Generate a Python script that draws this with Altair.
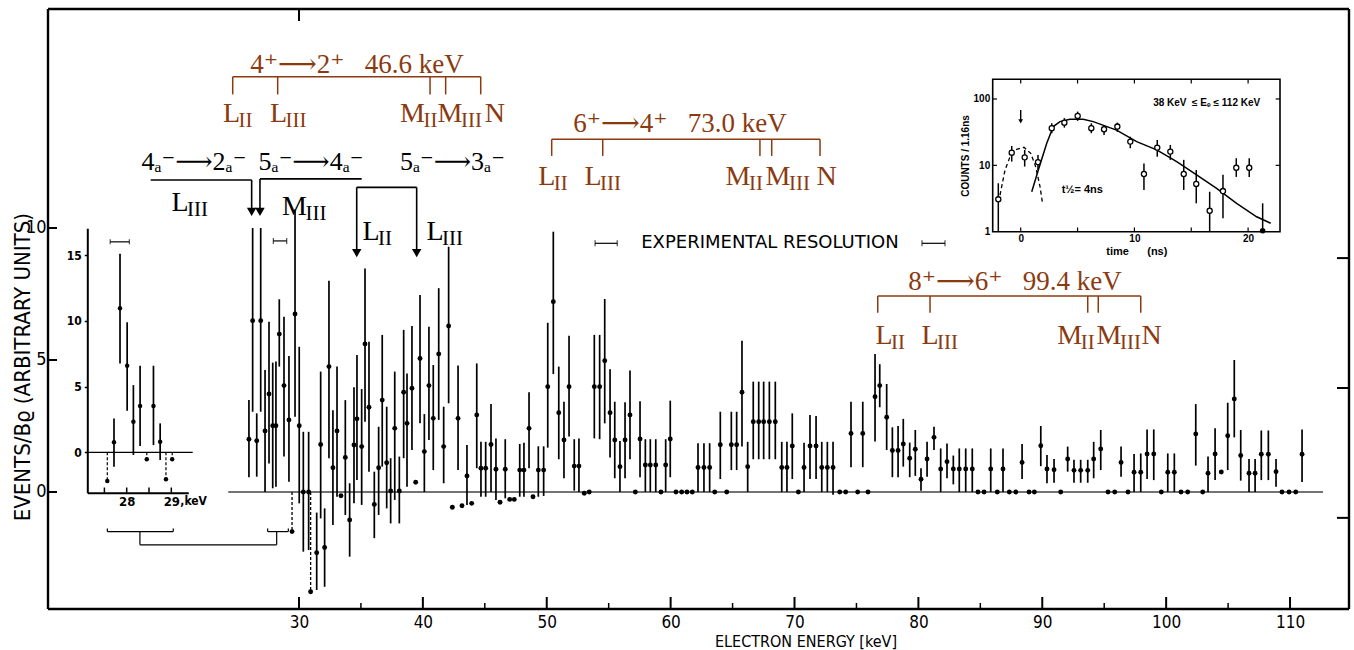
import altair as alt
import pandas as pd

SERIF = "Liberation Serif, Times New Roman, DejaVu Serif, serif"
SANS_N = "Liberation Sans Narrow, DejaVu Sans Condensed, Liberation Sans, sans-serif"
SANS = "Liberation Sans, DejaVu Sans, sans-serif"
WIDE = "DejaVu Sans, Liberation Sans, sans-serif"
BROWN = "#8B3A10"
NB = "\u00a0"

# ---------------- main spectrum (electron energy keV, events/Bρ) ----------------
energy = [25.96, 26.26, 26.59, 26.91, 27.26, 27.58, 27.88, 28.14, 28.41, 28.79,
          29.19, 29.68, 30.02, 30.35, 30.78, 31.43, 31.75, 32.07, 32.42, 32.74,
          33.07, 33.39, 33.74, 34.09, 34.44, 34.68, 35.06, 35.33, 35.65, 36.08,
          36.43, 36.72, 37.08, 37.40, 37.73, 38.10, 38.45, 38.72, 39.12, 39.42,
          39.77, 40.12, 40.49, 40.84, 41.28, 41.68, 42.08, 42.38, 42.84, 43.16,
          43.56, 43.94, 44.35, 44.69, 45.07, 45.50, 45.90, 46.23, 46.65, 47.01,
          47.38, 47.82, 48.16, 48.57, 48.89, 49.32, 49.75, 50.08, 50.53, 50.97,
          51.39, 51.80, 52.22, 52.60, 53.03, 53.43, 53.84, 54.27, 54.68, 55.11,
          55.49, 55.91, 56.32, 56.72, 57.15, 57.53, 57.96, 58.36, 58.80, 59.22,
          59.60, 59.97, 60.43, 60.89, 61.32, 61.75, 62.21, 62.69, 63.15, 63.56,
          64.01, 64.53, 64.90, 65.33, 65.76, 66.22, 66.67, 67.11, 67.51, 67.97,
          68.45, 68.97, 69.39, 69.82, 70.31, 70.77, 71.25, 71.74, 72.20, 72.65,
          73.11, 73.65, 74.13, 74.56, 75.10, 75.51, 75.93, 76.50, 76.88, 77.44,
          77.90, 78.36, 78.78, 79.30, 79.75, 80.21, 80.70, 81.26, 81.80, 82.31,
          82.82, 83.30, 83.82, 84.35, 84.81, 85.30, 85.84, 86.37, 86.83, 87.34,
          87.86, 88.37, 88.93, 89.36, 89.88, 90.38, 90.95, 91.49, 92.05, 92.56,
          93.10, 93.67, 94.15, 94.72, 95.31, 95.85, 96.36, 96.92, 97.41, 97.95,
          98.46, 99.00, 99.61, 100.13, 100.66, 101.20, 101.74, 102.39, 102.95, 103.38,
          103.95, 104.45, 104.97, 105.50, 106.02, 106.69, 107.18, 107.68, 108.25, 108.87,
          109.35, 109.92, 110.46, 110.97]
events = [2.0, 6.49, 1.94, 6.49, 2.31, 3.71, 2.51, 2.51, 5.98, 4.03,
          2.73, 6.74, 2.51, 0.0, 0.0, -2.3, 1.8, -2.1, 4.75, 0.92,
          2.31, -0.14, 1.31, -1.06, 1.78, 2.77, 1.72, 5.61, 3.21, -0.47,
          0.92, 3.48, 1.11, 0.04, 2.41, 0.04, 3.78, 2.6, 3.93, 0.37,
          5.06, 1.53, 4.03, 2.79, 5.23, 1.72, 6.29, -0.58, 2.79, -0.52,
          0.61, -0.43, 2.92, 0.9, 0.9, 1.8, 0.86, -0.39, 0.86, -0.28,
          -0.28, 0.83, 0.83, 2.41, -0.18, 0.83, 0.83, 3.99, 7.21, 3.0,
          1.97, 3.99, 0.98, 0.98, -0.05, 0.0, 3.99, 3.99, 4.97, 3.0,
          1.97, 0.96, 1.97, 2.92, 0.0, 2.01, 1.02, 1.02, 1.02, 0.0,
          1.02, 2.01, 0.0, 0.0, 0.0, 0.0, 0.93, 0.93, 0.93, 0.0,
          1.79, 0.0, 1.79, 1.79, 3.78, 0.96, 2.66, 2.66, 2.66, 2.66,
          2.66, 0.93, 0.93, 1.74, 0.0, 0.93, 1.74, 1.74, 0.93, 0.93,
          0.93, 0.0, 0.0, 2.22, 0.0, 2.22, 0.0, 3.61, 4.03, 2.83,
          1.57, 1.57, 1.82, 1.28, 1.62, 0.48, 1.25, 2.07, 0.87, 1.15,
          0.87, 0.87, 0.87, 0.87, 0.0, 0.0, 0.87, 0.0, 0.87, 0.0,
          0.0, 1.12, 0.0, 0.0, 1.75, 0.87, 0.84, 0.0, 1.25, 0.82,
          0.82, 0.82, 1.25, 1.63, 0.0, 0.0, 1.12, 0.0, 0.75, 0.75,
          1.44, 1.44, 0.0, 0.75, 0.75, 0.0, 0.0, 2.2, 0.0, 0.71,
          1.44, 0.76, 2.13, 3.52, 1.38, 0.71, 0.71, 1.43, 1.43, 0.77,
          0.0, 0.0, 0.0, 1.43]
N = None
err_lo = [0.56, 3.04, 0.58, 3.04, 0.0, 1.08, 0.14, 0.2, 4.75, 1.34,
          0.39, 2.85, -0.43, -2.26, -2.2, -3.71, -1.0, -3.59, 1.28, -1.25,
          -0.18, N, -0.87, -2.45, -0.43, 0.45, -0.49, 2.66, 0.77, -1.75,
          -0.87, 0.96, -0.62, -1.19, -0.3, -1.19, 1.28, 0.2, 1.59, N,
          2.6, 0.0, 1.97, 0.83, 2.73, 0.33, 3.36, N, 0.83, N,
          -0.49, N, 0.9, -0.18, -0.18, 0.0, -0.3, N, -0.24, N,
          N, -0.18, -0.18, 0.9, N, -0.18, -0.15, 1.68, 4.47, 1.24,
          0.52, 2.1, 0.05, 0.0, N, N, 2.03, 2.0, 2.6, 1.31,
          0.52, 0.0, 0.52, 1.24, N, 0.56, 0.0, 0.0, 0.0, N,
          0.0, 0.56, N, N, N, N, 0.0, 0.0, 0.0, N,
          0.49, N, 0.83, 0.83, 1.72, 0.0, 1.24, 1.24, 1.24, 1.24,
          1.24, 0.0, 0.0, 0.49, N, 0.0, 0.49, 0.49, 0.0, 0.0,
          -0.1, N, N, 0.94, N, 0.94, N, 1.91, 3.21, 1.59,
          0.56, 0.56, 0.96, 0.56, 0.61, 0.05, 0.58, 1.59, 0.0, 0.52,
          0.29, 0.0, 0.0, 0.0, N, N, 0.0, N, 0.0, N,
          N, 0.49, N, N, 0.98, 0.33, 0.35, N, 0.77, 0.35,
          0.35, 0.35, 0.52, 0.83, N, N, 0.58, N, 0.0, 0.0,
          0.49, 0.45, N, 0.0, 0.0, N, N, 1.0, N, 0.0,
          0.45, N, 0.83, 2.07, 0.43, 0.0, 0.0, 0.45, 0.45, 0.2,
          N, N, N, 0.38]
err_hi = [3.48, 10.0, 2.98, 10.0, 4.62, 6.45, 4.9, 4.94, 7.3, 6.64,
          5.15, 10.7, 5.5, 2.28, 2.28, -0.78, 4.56, -0.62, 8.0, 3.1,
          4.75, N, 3.48, 0.33, 3.97, 5.19, 3.9, 8.47, 5.69, 0.77,
          2.47, 5.95, 3.23, 1.28, 4.56, 1.34, 6.14, 4.49, 6.29, N,
          7.46, 2.95, 6.26, 4.81, 7.72, 3.23, 9.29, N, 4.79, N,
          1.78, N, 4.87, 1.9, 1.9, 3.33, 2.03, N, 2.0, N,
          N, 1.82, 1.87, 3.78, N, 1.73, 1.73, 6.41, 9.86, 4.75,
          3.42, 5.92, 2.0, 2.03, N, N, 5.95, 5.95, 7.31, 4.65,
          3.42, 1.93, 3.4, 4.6, N, 3.44, 2.0, 2.0, 2.0, N,
          2.0, 3.46, N, N, N, N, 1.85, 1.85, 1.85, N,
          3.04, N, 3.04, 3.04, 5.73, 1.9, 4.18, 4.18, 4.18, 4.18,
          4.18, 1.9, 1.9, 2.98, N, 1.87, 2.92, 2.88, 1.9, 1.9,
          1.9, N, N, 3.42, N, 3.42, N, 5.23, 4.84, 4.09,
          2.45, 2.5, 2.77, 1.87, 2.35, 0.9, 1.9, 2.47, 1.65, 1.84,
          1.38, 1.65, 1.65, 1.65, N, N, 1.65, N, 1.65, N,
          N, 1.82, N, N, 2.5, 1.4, 1.25, N, 1.72, 1.22,
          1.22, 1.22, 1.9, 2.35, N, N, 1.72, N, 1.44, 1.46,
          2.37, 2.37, N, 1.46, 1.46, N, N, 3.33, N, 1.34,
          2.41, N, 3.38, 5.0, 2.35, 1.25, 1.25, 2.33, 2.33, 1.25,
          N, N, N, 2.37]
assert len(energy) == len(events) == len(err_lo) == len(err_hi)

# points below zero joined to the baseline by dashed lines
dash_energy = [29.44, 30.94]
dash_events = [-1.5, -3.78]

# ---------------- left inset (27–29 keV region) ----------------
in_energy = [27.565, 27.715, 27.85, 28.01, 28.15, 28.30, 28.45, 28.60, 28.75, 28.88, 29.02]
in_events = [-2.18, 0.76, 10.95, 6.59, 2.33, 3.52, -0.53, 3.52, 0.81, -2.05, -0.53]
in_lo = [N, -1.09, 6.76, 3.16, -0.2, 0.48, N, 0.55, -0.58, N, N]
in_hi = [N, 2.58, 15.1, 9.88, 5.11, 6.58, N, 6.58, 2.2, N, N]
in_dashed = [True, False, False, False, False, False, True, False, False, True, True]

# ---------------- right inset (time spectrum) ----------------
t_ns = [-1.97, -0.79, 0.35, 1.52, 2.73, 3.84, 5.01, 6.21, 7.33, 8.5, 9.64,
        10.84, 12.01, 13.16, 14.34, 15.44, 16.62, 17.79, 18.96, 20.1, 21.28]
counts = [3.08, 15.5, 13.2, 11.2, 36.3, 44.0, 55.6, 36.3, 35.0, 38.4, 22.8,
          7.4, 18.5, 16.1, 7.4, 5.24, 2.07, 4.1, 9.2, 9.2, 1.03]
counts_lo = [1.0, 11.4, 9.6, 8.5, 30.5, 37.0, 46.8, 30.5, 28.7, 32.0, 18.1,
             4.26, 13.5, 12.1, 4.26, 2.68, 1.0, 1.6, 6.7, 6.7, 1.0]
counts_hi = [5.37, 19.6, 17.1, 14.3, 43.0, 51.5, 64.5, 43.0, 40.6, 44.0, 27.0,
             10.7, 24.1, 20.3, 12.1, 8.5, 4.0, 7.2, 12.8, 12.8, 2.68]
counts_filled = [False] * 20 + [True]
fit_t = [0.97, 1.55, 2.29, 2.87, 3.45, 4.33, 5.5, 6.38, 8.43, 10.2, 11.96, 13.72, 15.47, 17.23, 18.99, 20.75, 21.99]
fit_c = [4.0, 8.5, 21.5, 38.4, 45.6, 49.6, 49.6, 45.6, 34.0, 22.8, 17.1, 11.4, 7.2, 4.5, 2.68, 1.68, 1.34]
prompt_t = [-1.82, -1.38, -0.94, -0.35, 0.29, 0.88, 1.32, 1.70, 1.90]
prompt_c = [3.57, 8.5, 13.5, 17.4, 18.7, 15.2, 9.5, 4.76, 2.83]

# ---------------- annotations ----------------
trans_text = ["4\u207a\u27f62\u207a" + NB * 3 + "46.6 keV",
              "6\u207a\u27f64\u207a" + NB * 3 + "73.0 keV",
              "8\u207a\u27f66\u207a" + NB * 3 + "99.4 keV"]
trans_center = [34.68, 60.76, 87.80]
trans_base = [15.86, 13.65, 7.65]
bracket_v = [15.73, 13.36, 7.42]
bracket_bottom = [15.06, 12.73, 6.79]
shell_ticks = [[24.65, 28.28, 40.58, 41.84, 44.67],
               [50.40, 54.52, 67.21, 68.16, 72.06],
               [76.72, 80.94, 93.67, 94.52, 97.95]]
shell_label_x = [[24.55, 28.35, 39.16, 42.19, 45.82],
                 [50.00, 53.73, 65.44, 68.67, 72.60],
                 [77.23, 80.94, 92.22, 95.39, 98.82]]
shell_base = [14.03, 11.63, 5.60]
shell_letter = ["L", "L", "M", "M", "N"]
shell_sub = ["II", "III", "II", "III", ""]

blk_text = ["4\u2090\u207b\u27f62\u2090\u207b", "5\u2090\u207b\u27f64\u2090\u207b", "5\u2090\u207b\u27f63\u2090\u207b"]
blk_center = [21.52, 30.97, 42.39]
blk_base = 12.2
blk_lab_x = [20.39, 29.64, 35.81, 40.98]
blk_lab_v = [10.66, 10.49, 9.55, 9.55]
blk_lab_letter = ["L", "M", "L", "L"]
blk_lab_sub = ["III", "III", "II", "III"]

W, H = 1301, 600
x_dom = [9.74, 114.76]
y_dom = [-4.432, 18.295]
xs = alt.Scale(domain=x_dom, nice=False, zero=False)
ys = alt.Scale(domain=y_dom, nice=False, zero=False)
ax_x = alt.Axis(values=list(range(30, 111, 10)), ticks=False, domain=False, grid=False,
                labelFont=SANS_N, labelFontSize=17, labelPadding=5, labelColor="black",
                title=None, labelFlush=False)
ax_y = alt.Axis(values=[0, 5, 10], ticks=False, domain=False, grid=False,
                labelFont=SANS_N, labelFontSize=18, labelPadding=2, labelColor="black", title=None)


def X(f):
    return alt.X(f"{f}:Q", scale=xs, axis=ax_x)


def Y(f):
    return alt.Y(f"{f}:Q", scale=ys, axis=ax_y)


spec = pd.DataFrame({"E": energy, "v": events, "lo": err_lo, "hi": err_hi})
bars = spec.dropna(subset=["lo", "hi"])
dash = pd.DataFrame({"E": dash_energy, "v": dash_events, "z": [0.0] * len(dash_energy)})

main_layers = []
# outer frame: horizontal edges span the x domain, vertical edges span the y domain
hx = pd.DataFrame({"a": [x_dom[0]], "b": [x_dom[1]]})
vy = pd.DataFrame({"a": [y_dom[0]], "b": [y_dom[1]]})
main_layers.append(alt.Chart(hx).mark_rule(color="black", strokeWidth=2.4)
                   .encode(x=X("a"), x2="b", y=alt.value(0)))
main_layers.append(alt.Chart(hx).mark_rule(color="black", strokeWidth=2.4)
                   .encode(x=X("a"), x2="b", y=alt.value(H)))
main_layers.append(alt.Chart(vy).mark_rule(color="black", strokeWidth=2.4)
                   .encode(y=Y("a"), y2="b", x=alt.value(0)))
main_layers.append(alt.Chart(vy).mark_rule(color="black", strokeWidth=2.4)
                   .encode(y=Y("a"), y2="b", x=alt.value(W)))
main_layers.append(alt.Chart(pd.DataFrame({"x0": [24.29], "x1": [112.66], "y": [0.0]}))
                   .mark_rule(color="#444", strokeWidth=1.4)
                   .encode(x=X("x0"), x2="x1", y=Y("y")))
main_layers.append(alt.Chart(bars).mark_rule(color="black", strokeWidth=1.7)
                   .encode(x=X("E"), y=Y("lo"), y2="hi"))
main_layers.append(alt.Chart(dash).mark_rule(color="black", strokeWidth=1.3, strokeDash=[3, 2])
                   .encode(x=X("E"), y=Y("z"), y2="v"))
main_layers.append(alt.Chart(pd.concat([spec[["E", "v"]], dash[["E", "v"]]]))
                   .mark_circle(color="black", size=24, opacity=1)
                   .encode(x=X("E"), y=Y("v")))

# frame ticks (drawn inward)
maj = pd.DataFrame({"E": list(range(30, 111, 10))})
mino = pd.DataFrame({"E": list(range(35, 106, 10))})
main_layers.append(alt.Chart(maj).mark_rule(color="black", strokeWidth=2)
                   .encode(x=X("E"), y=alt.value(H), y2=alt.value(H - 12)))
main_layers.append(alt.Chart(mino).mark_rule(color="black", strokeWidth=1.5)
                   .encode(x=X("E"), y=alt.value(H), y2=alt.value(H - 6)))
main_layers.append(alt.Chart(pd.DataFrame({"E": [30]})).mark_rule(color="black", strokeWidth=2)
                   .encode(x=X("E"), y=alt.value(0), y2=alt.value(12)))
main_layers.append(alt.Chart(pd.DataFrame({"v": [0, 5, 10]})).mark_rule(color="black", strokeWidth=2)
                   .encode(y=Y("v"), x=alt.value(0), x2=alt.value(9)))
main_layers.append(alt.Chart(pd.DataFrame({"v": [8.86, 3.94, -0.98]})).mark_rule(color="black", strokeWidth=2)
                   .encode(y=Y("v"), x=alt.value(W), x2=alt.value(W - 12)))

# axis titles
main_layers.append(alt.Chart(pd.DataFrame({"E": [70.93], "t": ["ELECTRON  ENERGY [keV]"]}))
                   .mark_text(font=SANS_N, fontSize=16, baseline="middle", align="center", color="black")
                   .encode(x=X("E"), y=alt.value(633), text="t:N"))
main_layers.append(alt.Chart(pd.DataFrame({"v": [4.73], "t": ["EVENTS/B\u03f1 (ARBITRARY  UNITS)"]}))
                   .mark_text(font=SANS_N, fontSize=22, angle=270, baseline="middle", align="center", color="black")
                   .encode(y=Y("v"), x=alt.value(-25), text="t:N"))

# experimental resolution
main_layers.append(alt.Chart(pd.DataFrame({"E": [68.02], "v": [9.42], "t": ["EXPERIMENTAL  RESOLUTION"]}))
                   .mark_text(font=WIDE, fontSize=18, baseline="middle", align="center", color="black")
                   .encode(x=X("E"), y=Y("v"), text="t:N"))
res = pd.DataFrame({"a": [53.90, 80.29, 27.93], "b": [55.69, 82.15, 29.01], "v": [9.42, 9.42, 9.51]})
main_layers.append(alt.Chart(res).mark_rule(color="black", strokeWidth=1.2)
                   .encode(x=X("a"), x2="b", y=Y("v")))
res_ends = pd.DataFrame({"E": res["a"].tolist() + res["b"].tolist(), "v": res["v"].tolist() * 2})
main_layers.append(alt.Chart(res_ends).mark_tick(orient="vertical", size=6, thickness=1.2, color="black")
                   .encode(x=X("E"), y=Y("v")))

# bracket linking the inset to the 27.5-29 keV region
seg = pd.DataFrame({
    "x0": [14.53, 17.16, 17.16, 28.20, 27.47, 14.53, 19.85, 27.47, 29.14],
    "x1": [19.85, 17.16, 28.20, 28.20, 29.14, 14.53, 19.85, 27.47, 29.14],
    "y0": [-1.5, -1.5, -2.0, -2.0, -1.5, -1.5, -1.5, -1.5, -1.5],
    "y1": [-1.5, -2.0, -2.0, -1.5, -1.5, -1.38, -1.38, -1.38, -1.38]})
main_layers.append(alt.Chart(seg).mark_rule(color="black", strokeWidth=1.2)
                   .encode(x=X("x0"), x2="x1", y=Y("y0"), y2="y1"))

# brown conversion-line markers
tr = pd.DataFrame({"E": trans_center, "v": trans_base, "t": trans_text})
main_layers.append(alt.Chart(tr).mark_text(font=SERIF, fontSize=27, color=BROWN, baseline="alphabetic", align="center")
                   .encode(x=X("E"), y=Y("v"), text="t:N"))
br_rows, tk_rows, lab_rows = [], [], []
for i in range(3):
    br_rows.append({"x0": shell_ticks[i][0], "x1": shell_ticks[i][-1], "v": bracket_v[i]})
    for j in range(5):
        tk_rows.append({"E": shell_ticks[i][j], "a": bracket_v[i], "b": bracket_bottom[i]})
        lab_rows.append({"E": shell_label_x[i][j], "v": shell_base[i],
                         "L": shell_letter[j], "S": shell_sub[j]})
main_layers.append(alt.Chart(pd.DataFrame(br_rows)).mark_rule(color=BROWN, strokeWidth=1.5)
                   .encode(x=X("x0"), x2="x1", y=Y("v")))
main_layers.append(alt.Chart(pd.DataFrame(tk_rows)).mark_rule(color=BROWN, strokeWidth=1.5)
                   .encode(x=X("E"), y=Y("a"), y2="b"))
labs = pd.DataFrame(lab_rows)
main_layers.append(alt.Chart(labs).mark_text(font=SERIF, fontSize=28, color=BROWN, baseline="alphabetic", align="center")
                   .encode(x=X("E"), y=Y("v"), text="L:N"))
main_layers.append(alt.Chart(labs[labs["L"] == "L"]).mark_text(font=SERIF, fontSize=21, color=BROWN, baseline="alphabetic", align="left", dx=7, dy=5)
                   .encode(x=X("E"), y=Y("v"), text="S:N"))
main_layers.append(alt.Chart(labs[labs["L"] == "M"]).mark_text(font=SERIF, fontSize=21, color=BROWN, baseline="alphabetic", align="left", dx=11, dy=5)
                   .encode(x=X("E"), y=Y("v"), text="S:N"))

# black negative-parity band markers
bt = pd.DataFrame({"E": blk_center, "v": [blk_base] * 3, "t": blk_text})
main_layers.append(alt.Chart(bt).mark_text(font=SERIF, fontSize=26, color="black", baseline="alphabetic", align="center")
                   .encode(x=X("E"), y=Y("v"), text="t:N"))
bl = pd.DataFrame({"E": blk_lab_x, "v": blk_lab_v, "L": blk_lab_letter, "S": blk_lab_sub})
main_layers.append(alt.Chart(bl).mark_text(font=SERIF, fontSize=28, color="black", baseline="alphabetic", align="center")
                   .encode(x=X("E"), y=Y("v"), text="L:N"))
main_layers.append(alt.Chart(bl[bl["L"] == "L"]).mark_text(font=SERIF, fontSize=21, color="black", baseline="alphabetic", align="left", dx=7, dy=5)
                   .encode(x=X("E"), y=Y("v"), text="S:N"))
main_layers.append(alt.Chart(bl[bl["L"] == "M"]).mark_text(font=SERIF, fontSize=21, color="black", baseline="alphabetic", align="left", dx=11, dy=5)
                   .encode(x=X("E"), y=Y("v"), text="S:N"))
arr = pd.DataFrame({
    "x0": [18.03, 26.18, 26.85, 26.85, 34.66, 34.66, 39.50],
    "x1": [26.18, 26.18, 35.06, 26.85, 39.50, 34.66, 39.50],
    "y0": [11.82, 11.82, 11.86, 11.86, 11.54, 11.54, 11.54],
    "y1": [11.82, 10.75, 11.86, 10.75, 11.54, 9.20, 9.20]})
main_layers.append(alt.Chart(arr).mark_rule(color="black", strokeWidth=1.6)
                   .encode(x=X("x0"), x2="x1", y=Y("y0"), y2="y1"))
heads = pd.DataFrame({"E": [26.18, 26.85, 34.66, 39.50], "v": [10.61, 10.61, 9.05, 9.05]})
main_layers.append(alt.Chart(heads).mark_point(shape="triangle-down", filled=True, size=90, color="black", opacity=1)
                   .encode(x=X("E"), y=Y("v")))

main = alt.layer(*main_layers).properties(width=W, height=H)

# ---------------- left inset ----------------
xs_l = alt.Scale(domain=[27.1166, 29.381], range=[39.3, 140.3], nice=False, zero=False)
ys_l = alt.Scale(domain=[-3.07, 17.03], range=[483.7, 219.3], nice=False, zero=False)
ax_xl = alt.Axis(orient="bottom", offset=-116.3, values=[28, 29], ticks=False, domain=True,
                 domainColor="black", domainWidth=2, grid=False, labelFont=SANS_N, labelFontSize=13,
                 labelFontWeight="bold", labelPadding=3, labelColor="black", title=None)
ax_yl = alt.Axis(orient="left", offset=-39.3, values=[0, 5, 10, 15], ticks=True, tickSize=3,
                 tickColor="black", tickWidth=1.5, domain=True, domainColor="black", domainWidth=2,
                 grid=False, labelFont=SANS_N, labelFontSize=12, labelFontWeight="bold",
                 labelPadding=3, labelColor="black", title=None)


def XL(f):
    return alt.X(f"{f}:Q", scale=xs_l, axis=ax_xl)


def YL(f):
    return alt.Y(f"{f}:Q", scale=ys_l, axis=ax_yl)


ins = pd.DataFrame({"E": in_energy, "v": in_events, "lo": in_lo, "hi": in_hi,
                    "d": in_dashed, "z": [0.0] * len(in_energy)})
inset_l_layers = [
    alt.Chart(pd.DataFrame({"a": [27.1166], "b": [29.48], "v": [0.0]})).mark_rule(color="black", strokeWidth=1.3)
    .encode(x=XL("a"), x2="b", y=YL("v")),
    alt.Chart(ins.dropna(subset=["lo", "hi"])).mark_rule(color="black", strokeWidth=1.7)
    .encode(x=XL("E"), y=YL("lo"), y2="hi"),
    alt.Chart(ins[ins["d"]]).mark_rule(color="black", strokeWidth=1.2, strokeDash=[3, 2])
    .encode(x=XL("E"), y=YL("z"), y2="v"),
    alt.Chart(ins).mark_circle(color="black", size=20, opacity=1).encode(x=XL("E"), y=YL("v")),
    alt.Chart(pd.DataFrame({"E": [27.5, 28.0, 28.5, 29.0]})).mark_rule(color="black", strokeWidth=1.5)
    .encode(x=XL("E"), y=alt.value(483.7), y2=alt.value(478.5)),
    alt.Chart(pd.DataFrame({"a": [27.63], "b": [28.06], "v": [16.0]})).mark_rule(color="black", strokeWidth=1.2)
    .encode(x=XL("a"), x2="b", y=YL("v")),
    alt.Chart(pd.DataFrame({"E": [27.63, 28.06], "v": [16.0, 16.0]})).mark_tick(orient="vertical", size=5, thickness=1.2, color="black")
    .encode(x=XL("E"), y=YL("v")),
    alt.Chart(pd.DataFrame({"E": [29.0], "v": [-3.07], "t": [",keV"]}))
    .mark_text(font=SANS_N, fontSize=12, fontWeight="bold", align="left", baseline="top", dx=9, dy=3, color="black")
    .encode(x=XL("E"), y=YL("v"), text="t:N"),
]
inset_l = alt.layer(*inset_l_layers).properties(width=W, height=H)

# ---------------- right inset ----------------
t_dom = [-2.463, 22.806]
c_dom = [1, 198]
xs_r = alt.Scale(domain=t_dom, range=[944.7, 1232], nice=False, zero=False)
ys_r = alt.Scale(type="log", domain=c_dom, range=[222.7, 70.3], nice=False)
ax_xr = alt.Axis(orient="bottom", offset=-377.3, values=[0, 10, 20], ticks=False, domain=False, grid=False,
                 labelFont=SANS, labelFontSize=10, labelFontWeight="bold", labelPadding=2, labelColor="black",
                 title="time" + NB * 6 + "(ns)", titleFont=SANS, titleFontSize=11, titleFontWeight="bold",
                 titlePadding=2, titleColor="black")
ax_yr = alt.Axis(orient="left", offset=-944.7, values=[1, 10, 100], format="d", ticks=False, domain=False,
                 grid=False, labelFont=SANS, labelFontSize=10, labelFontWeight="bold", labelPadding=3,
                 labelColor="black", title="COUNTS / 1.16ns", titleFont=SANS, titleFontSize=10,
                 titleFontWeight="bold", titlePadding=3, titleColor="black")


def XR(f):
    return alt.X(f"{f}:Q", scale=xs_r, axis=ax_xr)


def YR(f):
    return alt.Y(f"{f}:Q", scale=ys_r, axis=ax_yr)


rd = pd.DataFrame({"t": t_ns, "c": counts, "lo": counts_lo, "hi": counts_hi, "f": counts_filled})
inset_r_layers = [
    alt.Chart(pd.DataFrame({"a": [t_dom[0]], "b": [t_dom[1]], "c0": [c_dom[0]], "c1": [c_dom[1]]}))
    .mark_rect(filled=False, stroke="black", strokeWidth=1.6, fill=None)
    .encode(x=XR("a"), x2="b", y=YR("c0"), y2="c1"),
    alt.Chart(pd.DataFrame({"t": [0, 5, 10, 15, 20]})).mark_rule(color="black", strokeWidth=1.2)
    .encode(x=XR("t"), y=alt.value(222.7), y2=alt.value(218.5)),
    alt.Chart(pd.DataFrame({"t": [0, 5, 10, 15, 20]})).mark_rule(color="black", strokeWidth=1.2)
    .encode(x=XR("t"), y=alt.value(70.3), y2=alt.value(74.5)),
    alt.Chart(pd.DataFrame({"c": [10, 100]})).mark_rule(color="black", strokeWidth=1.2)
    .encode(y=YR("c"), x=alt.value(944.7), x2=alt.value(949)),
    alt.Chart(pd.DataFrame({"c": [10, 100]})).mark_rule(color="black", strokeWidth=1.2)
    .encode(y=YR("c"), x=alt.value(1232), x2=alt.value(1227.7)),
    alt.Chart(rd).mark_rule(color="black", strokeWidth=1.5).encode(x=XR("t"), y=YR("lo"), y2="hi"),
    alt.Chart(pd.DataFrame({"t": fit_t, "c": fit_c})).mark_line(color="black", strokeWidth=1.5)
    .encode(x=XR("t"), y=YR("c"), order="t:Q"),
    alt.Chart(pd.DataFrame({"t": prompt_t, "c": prompt_c})).mark_line(color="black", strokeWidth=1.3, strokeDash=[4, 3])
    .encode(x=XR("t"), y=YR("c"), order="t:Q"),
    alt.Chart(rd[~rd["f"]]).mark_point(shape="circle", filled=True, fill="white", stroke="black",
                                       strokeWidth=1.3, size=26, opacity=1)
    .encode(x=XR("t"), y=YR("c")),
    alt.Chart(rd[rd["f"]]).mark_circle(color="black", size=30, opacity=1).encode(x=XR("t"), y=YR("c")),
    # prompt-time marker arrow
    alt.Chart(pd.DataFrame({"t": [0.0], "a": [68.0], "b": [47.0]})).mark_rule(color="black", strokeWidth=1.4)
    .encode(x=XR("t"), y=YR("a"), y2="b"),
    alt.Chart(pd.DataFrame({"t": [0.0], "c": [46.0]})).mark_point(shape="triangle-down", filled=True, size=22,
                                                                   color="black", opacity=1)
    .encode(x=XR("t"), y=YR("c")),
    alt.Chart(pd.DataFrame({"t": [11.65], "c": [87.0], "s": ["38 KeV" + NB * 2 + "\u2264 E\u2091 \u2264 112 KeV"]}))
    .mark_text(font=SANS, fontSize=10, fontWeight="bold", color="black", baseline="middle", align="left")
    .encode(x=XR("t"), y=YR("c"), text="s:N"),
    alt.Chart(pd.DataFrame({"t": [3.6], "c": [4.25], "s": ["t\u00bd= 4ns"]}))
    .mark_text(font=SANS, fontSize=11, fontWeight="bold", color="black", baseline="middle", align="left")
    .encode(x=XR("t"), y=YR("c"), text="s:N"),
]
inset_r = alt.layer(*inset_r_layers).properties(width=W, height=H)

chart = (
    alt.layer(main, inset_l, inset_r)
    .resolve_scale(x="independent", y="independent")
    .properties(width=W, height=H, autosize=alt.AutoSizeParams(type="none"),
                padding={"left": 48, "top": 9, "right": 5, "bottom": 41}, background="white")
    .configure_view(stroke="transparent", strokeWidth=0)
)

chart.save("out.html", embed_options={"renderer": "svg", "actions": False})
